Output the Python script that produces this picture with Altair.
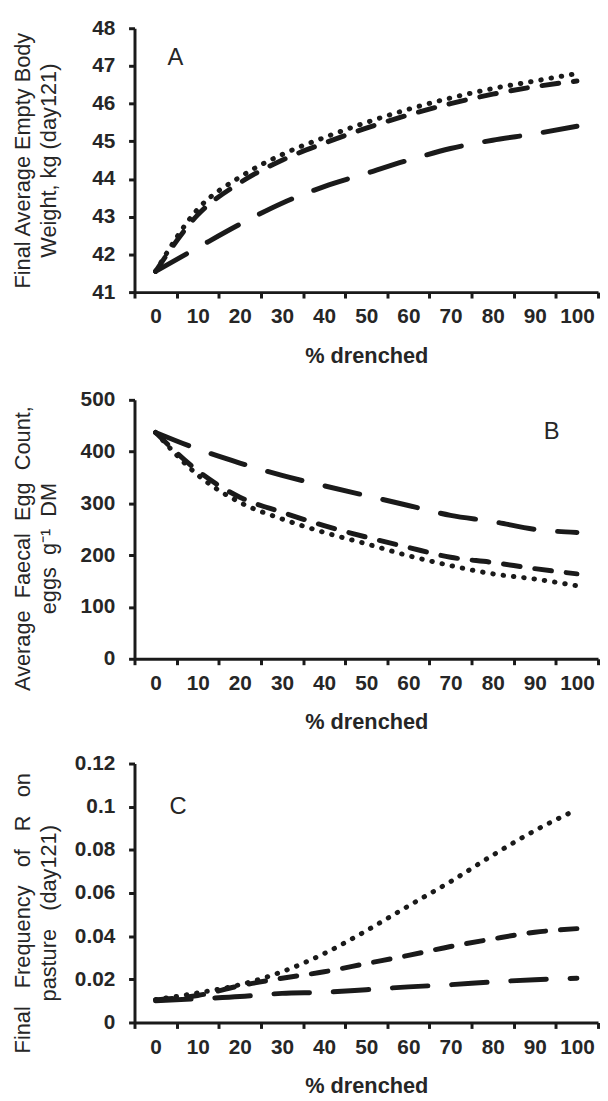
import altair as alt
import pandas as pd

# ---------------- data ----------------
pct = [0, 10, 20, 30, 40, 50, 60, 70, 80, 90, 100]
series = ["dotted", "dashed", "long dashed"]

a_dotted = [41.55, 43.2, 44.05, 44.65, 45.1, 45.5, 45.85, 46.15, 46.4, 46.6, 46.8]
a_dashed = [41.55, 43.05, 43.9, 44.5, 44.95, 45.35, 45.7, 46.0, 46.25, 46.45, 46.6]
a_long = [41.55, 42.18, 42.8, 43.36, 43.8, 44.15, 44.5, 44.81, 45.03, 45.2, 45.4]

b_dotted = [437, 355, 302, 270, 244, 222, 199, 180, 164, 154, 141]
b_dashed = [437, 363, 312, 283, 257, 235, 215, 196, 186, 174, 164]
b_long = [437, 405, 378, 354, 334, 315, 296, 277, 265, 250, 244]

c_dotted = [0.0106, 0.0137, 0.0175, 0.0235, 0.0319, 0.0425, 0.054, 0.0653, 0.0775, 0.0889, 0.0987]
c_dashed = [0.0105, 0.0125, 0.017, 0.0205, 0.0235, 0.0273, 0.0311, 0.0352, 0.0387, 0.0418, 0.0435]
c_long = [0.0100, 0.011, 0.012, 0.0135, 0.014, 0.0152, 0.0165, 0.0175, 0.0188, 0.0198, 0.0205]

a_ticks = [41, 42, 43, 44, 45, 46, 47, 48]
b_ticks = [0, 100, 200, 300, 400, 500]
c_ticks = [0, 0.02, 0.04, 0.06, 0.08, 0.1, 0.12]

NB = "\u00a0"
a_title = ["Final Average Empty Body", "Weight, kg (day121)"]
b_title = [
    f"Average {NB}Faecal {NB}Egg {NB}Count,",
    f"eggs {NB}g\u207b\u00b9 {NB}DM",
]
c_title = [
    f"Final {NB}{NB}Frequency {NB}{NB}of {NB}{NB}R {NB}{NB}on",
    f"pasture {NB}{NB}(day121)",
]
x_title = "% drenched"

letters = ["A", "B", "C"]
letter_pct = [0, 90, 0]
letter_val = [47.2, 437, 0.1]

# ---------------- style ----------------
FONT = "Liberation Sans"
INK = "#1a1a1a"
TXT = "#262626"
W = 469
letter_dx = [12, 9, 14]


def make_df(vals_list):
    rows = []
    for name, vals in zip(series, vals_list):
        for p, v in zip(pct, vals):
            rows.append({"pct": p, "value": v, "series": name})
    return pd.DataFrame(rows)


def panel(vals_list, ytitle, ydomain, yticks, yfmt, height, idx, title_shift):
    df = make_df(vals_list)
    xscale = alt.Scale(type="band", domain=pct, paddingInner=0, paddingOuter=0)
    yscale = alt.Scale(domain=ydomain, nice=False, zero=False)
    xaxis = alt.Axis(
        title=x_title,
        tickBand="extent",
        labelAngle=0,
        labelOverlap=False,
        grid=False,
        domainWidth=3,
        domainColor=INK,
        tickWidth=3,
        tickColor=INK,
        tickSize=6,
        labelFont=FONT,
        labelFontSize=21,
        labelFontWeight="bold",
        labelColor=TXT,
        labelPadding=8,
        titleFont=FONT,
        titleFontSize=22,
        titleFontWeight="bold",
        titleColor=TXT,
        titleBaseline="alphabetic",
        titleY=71,
    )
    yaxis = alt.Axis(
        title=ytitle,
        values=yticks,
        format=yfmt,
        labelOverlap=False,
        grid=False,
        domainWidth=3,
        domainColor=INK,
        tickWidth=3,
        tickColor=INK,
        tickSize=6,
        labelFont=FONT,
        labelFontSize=21,
        labelFontWeight="bold",
        labelColor=TXT,
        labelPadding=14,
        titleFont=FONT,
        titleFontSize=22,
        titleFontWeight="normal",
        titleColor=TXT,
        titleAngle=-90,
        titleAlign="center",
        titleBaseline="alphabetic",
        titleLineHeight=26,
        titleX=-106,
        titleY=height / 2 + title_shift,
    )
    lines = alt.Chart(df).mark_line(
        strokeWidth=5, strokeCap="round", color=INK, interpolate="monotone"
    ).encode(
        x=alt.X("pct:O", bandPosition=0.5, scale=xscale, axis=xaxis),
        y=alt.Y("value:Q", scale=yscale, axis=yaxis),
        detail="series:N",
        strokeDash=alt.StrokeDash(
            "series:N",
            scale=alt.Scale(domain=series, range=[[0.5, 10], [17, 15], [36, 24]]),
            legend=None,
        ),
    )
    ldf = pd.DataFrame({"pct": [letter_pct[idx]], "value": [letter_val[idx]], "t": [letters[idx]]})
    label = alt.Chart(ldf).mark_text(
        align="left", baseline="middle", dx=letter_dx[idx], font=FONT, fontSize=24, color=TXT
    ).encode(
        x=alt.X("pct:O", bandPosition=0.5, scale=xscale, axis=xaxis),
        y=alt.Y("value:Q", scale=yscale, axis=yaxis),
        text="t:N",
    )
    return alt.layer(lines, label).properties(width=W, height=height)


pa = panel([a_dotted, a_dashed, a_long], a_title, [41, 48], a_ticks, "d", 267, 0, 0)
pb = panel([b_dotted, b_dashed, b_long], b_title, [0, 500], b_ticks, "d", 262, 1, 19)
pc = panel([c_dotted, c_dashed, c_long], c_title, [0, 0.12], c_ticks, ".2~f", 262, 2, 20)

top_two = alt.vconcat(pa, pb, spacing=23)
chart = alt.vconcat(top_two, pc, spacing=20).configure_view(stroke=None).properties(
    padding={"left": 3, "top": 3, "right": 0, "bottom": 0},
    background="white",
)

chart.save("out.html", embed_options={"renderer": "svg", "actions": False})
